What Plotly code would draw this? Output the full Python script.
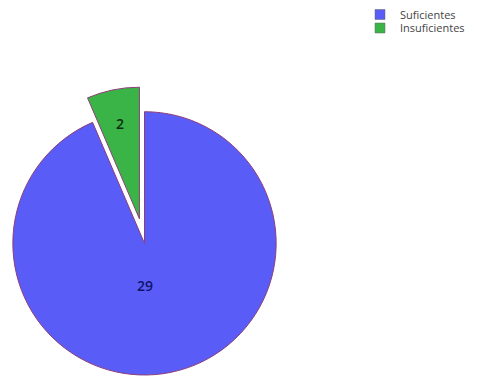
import math
import plotly.graph_objects as go

# Data
labels = ["Suficientes", "Insuficientes"]
values = [29, 2]
colors = ["#5a5cf7", "#3bb447"]
text_colors = ["#10146a", "#0c2c12"]

W, H = 480, 376
CX, CY, R = 144.5, 243.0, 132.0   # pie centre / radius in px
PULL = 0.19                       # exploded fraction of radius for the small slice
TRANSPARENT = "rgba(0,0,0,0)"
EDGE = "#8c3f78"


def domain_for(cx, cy, r):
    """Paper-domain box that gives a pie of radius r centred at (cx, cy) px."""
    return dict(
        x=[(cx - r) / W, (cx + r) / W],
        y=[1 - (cy + r) / H, 1 - (cy - r) / H],
    )


def polar(cx, cy, deg, dist):
    """Point at `dist` px from (cx, cy), angle clockwise from 12 o'clock."""
    a = math.radians(deg)
    return cx + dist * math.sin(a), cy - dist * math.cos(a)


# direction of the exploded slice (clockwise from 12 o'clock)
total = sum(values)
mid_small = 360.0 * (values[0] + values[1] / 2) / total
cx_b, cy_b = polar(CX, CY, mid_small, PULL * R)

fig = go.Figure()

# main body: the large slice
fig.add_trace(go.Pie(
    labels=labels, values=values, sort=False, direction="clockwise", rotation=0,
    marker=dict(colors=[colors[0], TRANSPARENT],
                line=dict(color=[EDGE, TRANSPARENT], width=[1, 0])),
    textinfo="none",
    domain=domain_for(CX, CY, R), showlegend=False, hoverinfo="label+value",
))

# exploded small slice
fig.add_trace(go.Pie(
    labels=labels, values=values, sort=False, direction="clockwise", rotation=0,
    marker=dict(colors=[TRANSPARENT, colors[1]],
                line=dict(color=[TRANSPARENT, EDGE], width=[0, 1])),
    textinfo="none",
    domain=domain_for(cx_b, cy_b, R), showlegend=False, hoverinfo="label+value",
))

# value labels inside the slices
label_spots = [
    polar(CX, CY, 180.0, 0.32 * R),
    polar(cx_b, cy_b, mid_small, 0.74 * R),
]
for v, (px, py), tc in zip(values, label_spots, text_colors):
    fig.add_annotation(
        x=px / W, y=1 - py / H, xref="paper", yref="paper",
        text=str(v), showarrow=False, xanchor="center", yanchor="middle",
        font=dict(family="Open Sans", size=14, color=tc, weight=600),
    )

# legend keys
for i, (lab, col) in enumerate(zip(labels, colors)):
    fig.add_trace(go.Scatter(
        x=[None], y=[None], mode="markers", name=lab,
        marker=dict(symbol="square", size=10, color=col,
                    line=dict(color="#666666", width=0.5)),
        legend="legend" if i == 0 else "legend2", showlegend=True,
    ))

legend_style = dict(
    xanchor="left", yanchor="middle", bgcolor="rgba(0,0,0,0)",
    font=dict(family="Open Sans", size=11, color="#444444"),
    itemwidth=30, borderwidth=0,
)

fig.update_layout(
    width=W, height=H,
    margin=dict(l=0, r=0, t=0, b=0),
    paper_bgcolor="white", plot_bgcolor="white",
    xaxis=dict(visible=False), yaxis=dict(visible=False),
    showlegend=True,
    legend=dict(x=360 / W, y=1 - 14 / H, **legend_style),
    legend2=dict(x=360 / W, y=1 - 28 / H, **legend_style),
)

fig.write_html("out.html")
